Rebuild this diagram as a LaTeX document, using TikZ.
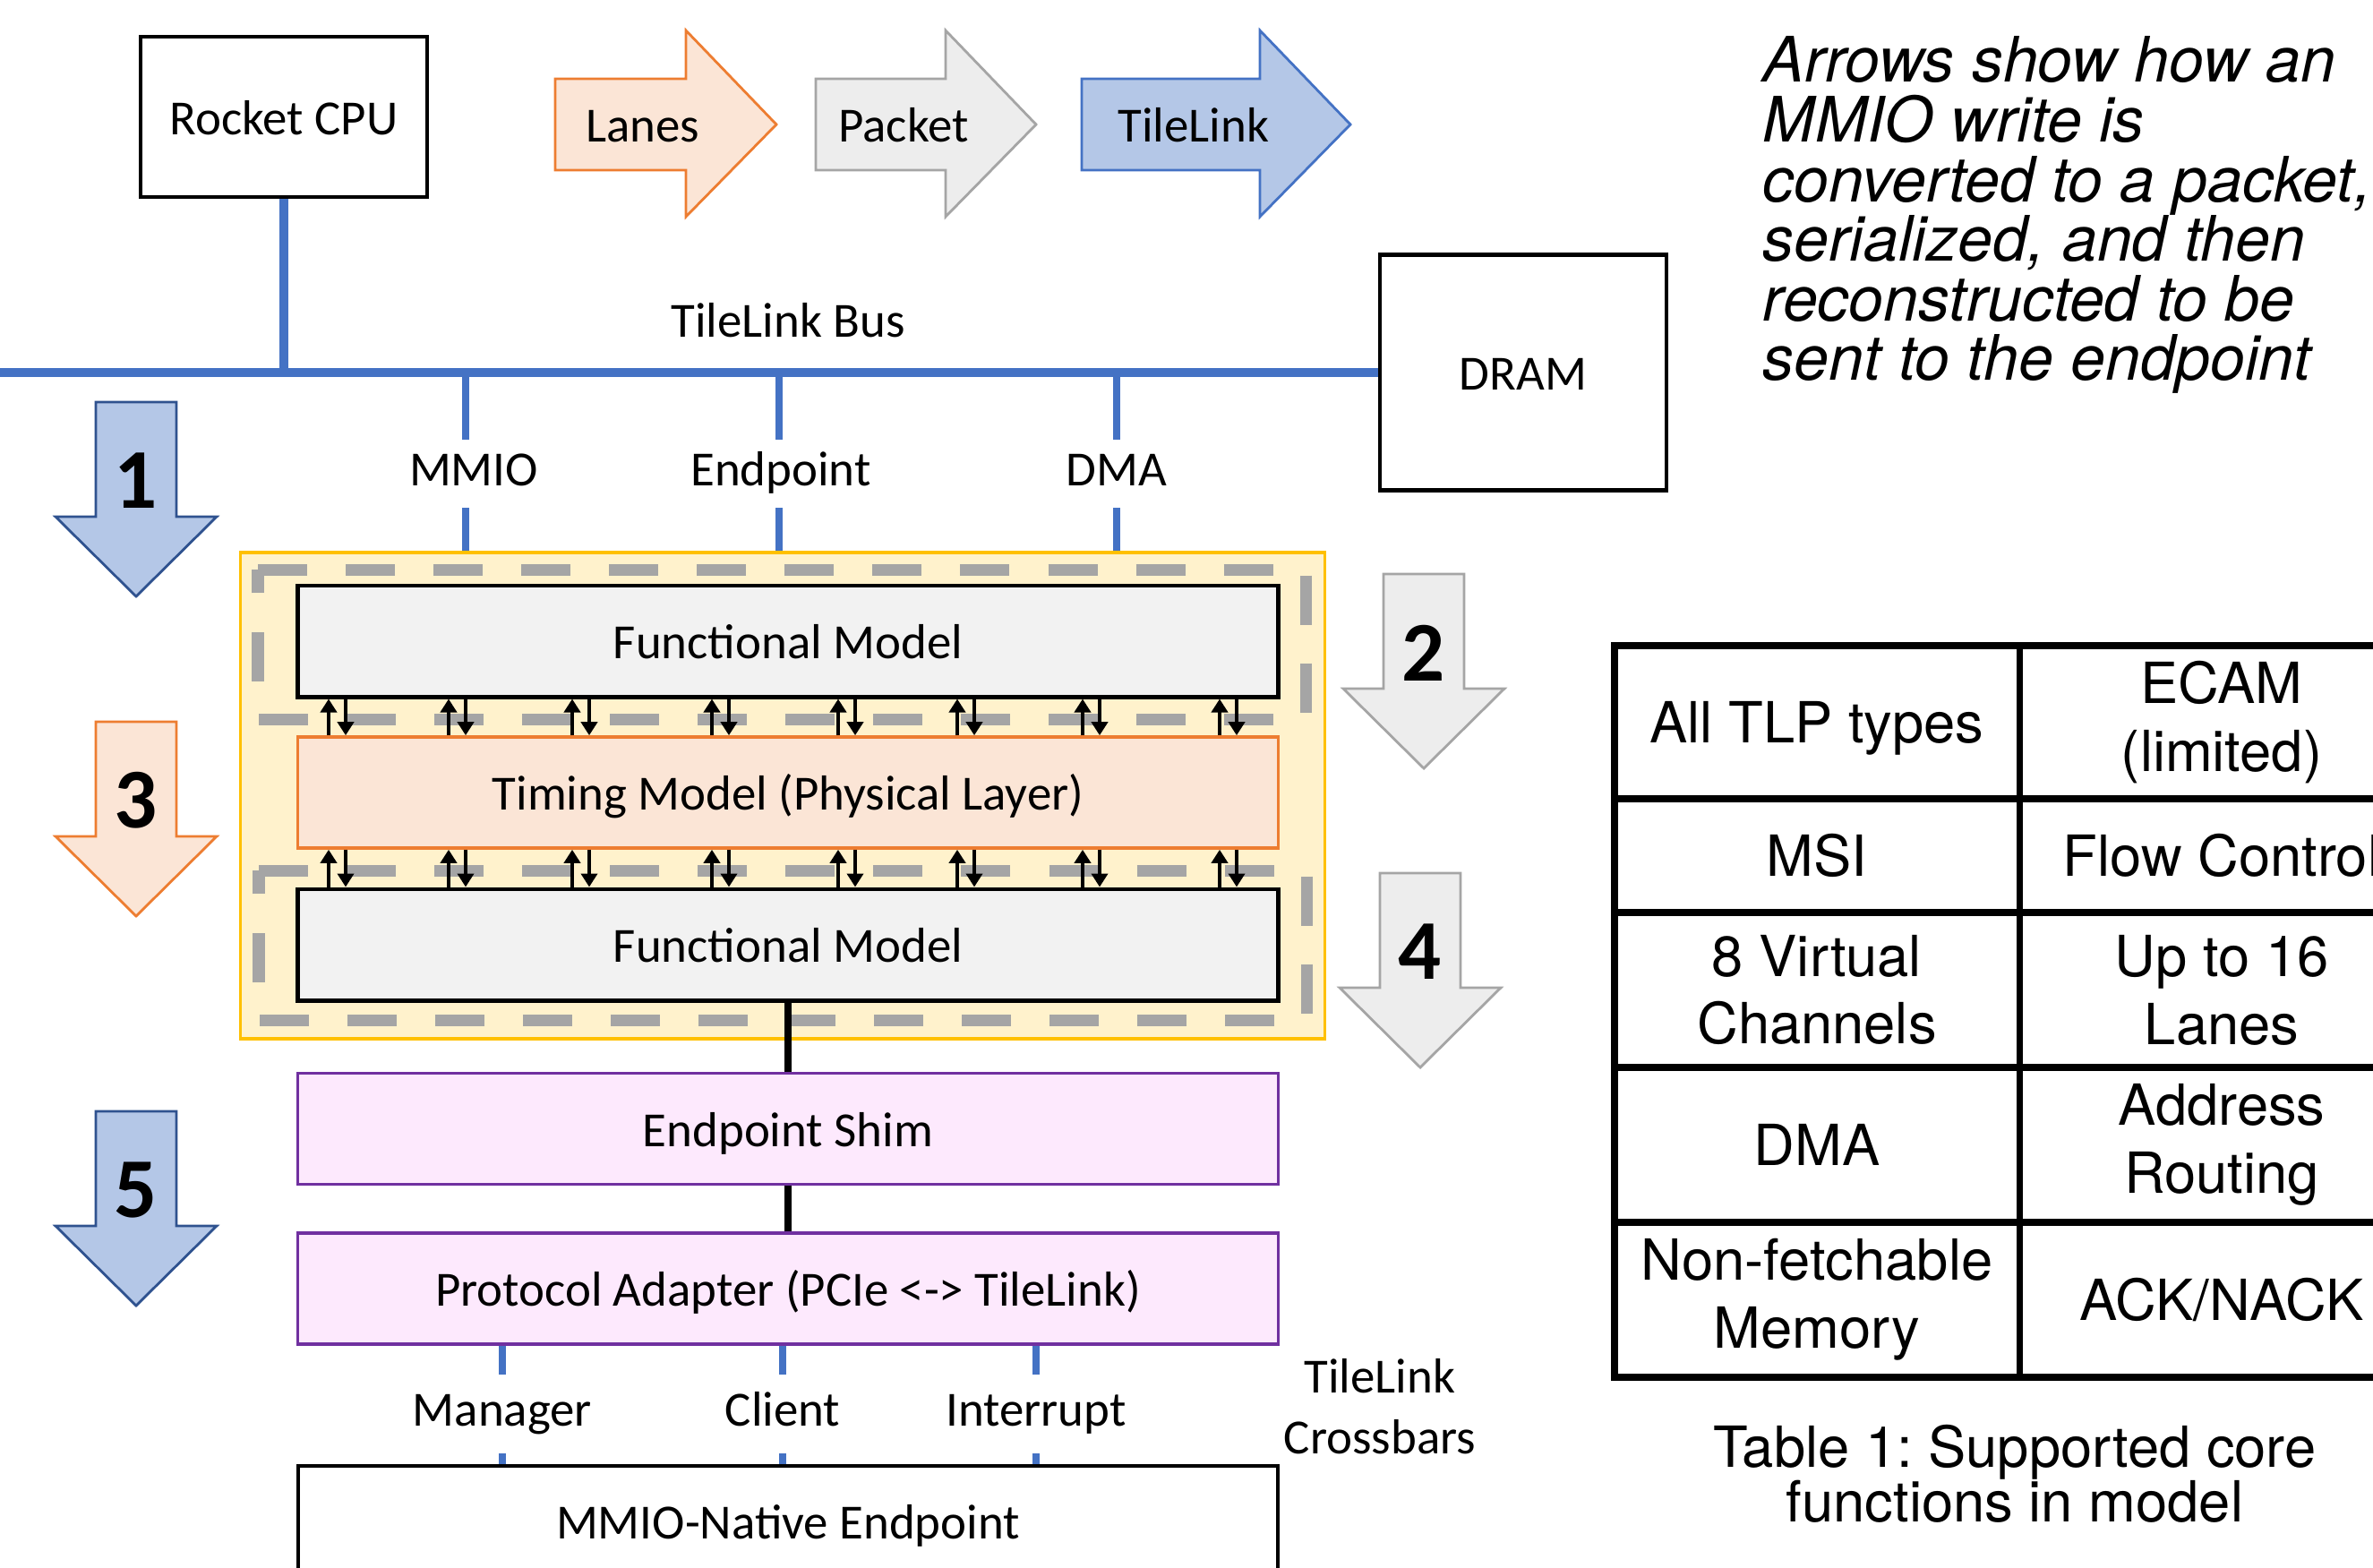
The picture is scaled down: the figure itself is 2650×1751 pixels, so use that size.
\documentclass[tikz,border=0pt]{standalone}
\usepackage{fontspec}
\setmainfont{Carlito}
\newfontfamily\helv{TeX Gyre Heros}
\usepackage{tikz}
\usetikzlibrary{arrows.meta}
\frenchspacing

\definecolor{busblue}{HTML}{4472C4}
\definecolor{darkblue}{HTML}{2F528F}
\definecolor{lightblue}{HTML}{B4C7E7}
\definecolor{orangeline}{HTML}{ED7D31}
\definecolor{peach}{HTML}{FBE5D6}
\definecolor{grayline}{HTML}{A5A5A5}
\definecolor{lightgray}{HTML}{EDEDED}
\definecolor{fmgray}{HTML}{F2F2F2}
\definecolor{simyellow}{HTML}{FFF2CC}
\definecolor{goldline}{HTML}{FFC000}
\definecolor{purpleline}{HTML}{7030A0}
\definecolor{pinkfill}{HTML}{FDE9FD}

\tikzset{
  lbl/.style={font=\fontsize{15.6}{19.3}\selectfont},
  boxtext/.style={lbl, text height=0.39cm, text depth=0cm},
  box/.style={draw, line width=1.2pt, fill=white, boxtext},
  model/.style={draw, line width=1.4pt, fill=fmgray, minimum width=10.94cm, minimum height=1.24cm, boxtext},
  timingbox/.style={model, draw=orangeline, line width=1pt, fill=peach},
  shimbox/.style={model, draw=purpleline, line width=1pt, fill=pinkfill},
  simbox/.style={draw=goldline, line width=1pt, fill=simyellow, minimum width=12.1cm, minimum height=5.43cm},
  grpdash/.style={draw=grayline, line width=0.13cm, dash pattern=on 0.55cm off 0.43cm},
  bus/.style={draw=busblue, line width=2.6pt},
  stub/.style={draw=busblue, line width=2.2pt},
  port/.style={lbl, inner sep=0pt, minimum height=0.75cm, text height=0.38cm, text depth=0.12cm},
  link/.style={draw=black, line width=2.5pt},
  pairarrow/.style={line width=1.1pt, -{Triangle[length=0.15cm, width=0.18cm]}},
  bluearrow/.style={draw=darkblue, line width=0.8pt, fill=lightblue},
  tlarrow/.style={draw=busblue, line width=0.8pt, fill=lightblue},
  grayarrow/.style={draw=grayline, line width=0.8pt, fill=lightgray},
  orangearrow/.style={draw=orangeline, line width=0.8pt, fill=peach},
  stepnum/.style={font=\bfseries\fontsize{27}{32}\selectfont, inner sep=0pt},
  note/.style={font=\helv\itshape\fontsize{19.9}{18.95}\selectfont, align=left, inner sep=0pt, anchor=north west},
  tabtext/.style={font=\helv\fontsize{18}{21.6}\selectfont, align=center, inner sep=0pt},
  tabline/.style={line width=2pt, line cap=rect},
}

\begin{document}
\begin{tikzpicture}[x=0.01cm, y=-0.01cm]
        \useasboundingbox (0,0) rectangle (2650,1751);
        \clip (0,0) rectangle (2650,1751);

        % host side
        \node[box, minimum width=3.2cm, minimum height=1.79cm] (cpu) at (317,130.5) {Rocket CPU};
        \node[box, minimum width=3.2cm, minimum height=2.63cm] (dram) at (1701,416) {DRAM};
        \coordinate (busL) at (0,416);
        \draw[bus] (busL) -- (dram.west);
        \draw[bus] (cpu.south) -- (cpu.south |- busL);
        \node[lbl] (buslabel) at (880,358) {TileLink Bus};

        % legend arrows
        \foreach \x/\len/\t/\s/\tx in {620/146/Lanes/orangearrow/718, 911/145/Packet/grayarrow/1009, 1208/199/TileLink/tlarrow/1333}{
            \draw[\s] (\x,88) -- (\x+\len,88) -- (\x+\len,34) -- (\x+\len+101,139) -- (\x+\len,242) -- (\x+\len,190) -- (\x,190) -- cycle;
            \node[boxtext] (\t) at (\tx,139) {\t};
        }

        % numbered steps
        \foreach \x/\y/\n/\s in {152/449/1/bluearrow, 1590/641/2/grayarrow, 152/806/3/orangearrow, 1586/975/4/grayarrow, 152/1241/5/bluearrow}{
            \draw[\s] (\x-45,\y) -- (\x+45,\y) -- (\x+45,\y+128) -- (\x+90,\y+128) -- (\x,\y+217) -- (\x-90,\y+128) -- (\x-45,\y+128) -- cycle;
            \node[stepnum] (step\n) at (\x,\y+88) {\n};
        }

        % simulated PCIe link
        \node[simbox] (sim) at (874,888.5) {};
        \draw[grpdash] (288,636) -- (1458,636) -- (1458,803) -- (288,803) -- cycle;
        \draw[grpdash] (289,972) -- (1459,972) -- (1459,1139) -- (289,1139) -- cycle;
        \node[model] (fmtop) at (880,716) {Functional Model};
        \node[timingbox] (timing) at (880,885) {Timing Model (Physical Layer)};
        \node[model] (fmbot) at (880,1055) {Functional Model};

        \foreach \u in {367,501,639,795,936,1069,1209,1362}{
            \coordinate (up) at (\u,0);
            \coordinate (dn) at (\u+19,0);
            \draw[pairarrow] (timing.north -| up) -- (fmtop.south -| up);
            \draw[pairarrow] (fmtop.south -| dn) -- (timing.north -| dn);
            \draw[pairarrow] (fmbot.north -| up) -- (timing.south -| up);
            \draw[pairarrow] (timing.south -| dn) -- (fmbot.north -| dn);
        }

        \foreach \n/\x/\lx/\t in {mmio/520/529/MMIO, ep/870/872/Endpoint, dma/1247/1247/DMA}{
            \node[port] (\n) at (\lx,529) {\t};
            \coordinate (s) at (\x,0);
            \draw[stub] (s |- \n.north) -- (s |- busL);
            \draw[stub] (s |- \n.south) -- (s |- sim.north);
        }

        % device side
        \node[shimbox] (shim) at (880,1260.5) {Endpoint Shim};
        \node[shimbox] (adapter) at (880,1439) {Protocol Adapter (PCIe <-> TileLink)};
        \node[model, fill=white, line width=1.2pt] (native) at (880,1699) {MMIO-Native Endpoint};
        \draw[link] (fmbot.south) -- (shim.north);
        \draw[link] (shim.south) -- (adapter.north);

        \foreach \n/\x/\t in {mgr/561/Manager, cli/874/Client, irq/1157/Interrupt}{
            \node[port, minimum height=0.87cm] (\n) at (\x,1579) {\t};
            \draw[stub] (\n.north) -- (\n.north |- adapter.south);
            \draw[stub] (\n.south) -- (\n.south |- native.north);
        }
        \node[lbl, align=center] (xbar) at (1541,1571) {TileLink\\Crossbars};

        % note
        \node[note] (note) at (1968,40) {Arrows show how an\\MMIO write is\\converted to a packet,\\serialized, and then\\reconstructed to be\\sent to the endpoint};

        % table, runs past the right edge
        \foreach \y in {721,892,1019,1192,1365,1538} \draw[tabline] (1803,\y) -- (2708,\y);
        \foreach \x in {1803,2255,2708} \draw[tabline] (\x,721) -- (\x,1538);

        \node[tabtext, text depth=0pt] (t11) at (2029,806.5) {All TLP types};
        \node[tabtext] (t12) at (2481,806.5) {ECAM\\(limited)};
        \node[tabtext] (t21) at (2029,955.5) {MSI};
        \node[tabtext] (t22) at (2481,955.5) {Flow Control};
        \node[tabtext] (t31) at (2029,1105.5) {8 Virtual\\Channels};
        \node[tabtext] (t32) at (2481,1105.5) {Up to 16\\Lanes};
        \node[tabtext] (t41) at (2029,1278.5) {DMA};
        \node[tabtext] (t42) at (2481,1278.5) {Address\\Routing};
        \node[tabtext] (t51) at (2029,1451.5) {Non-fetchable\\Memory};
        \node[tabtext] (t52) at (2481,1451.5) {ACK/NACK};

        \node[tabtext, font=\helv\fontsize{18}{17.4}\selectfont, anchor=north] (caption) at (2250,1590) {Table 1: Supported core\\functions in model};
    \end{tikzpicture}
\end{document}
